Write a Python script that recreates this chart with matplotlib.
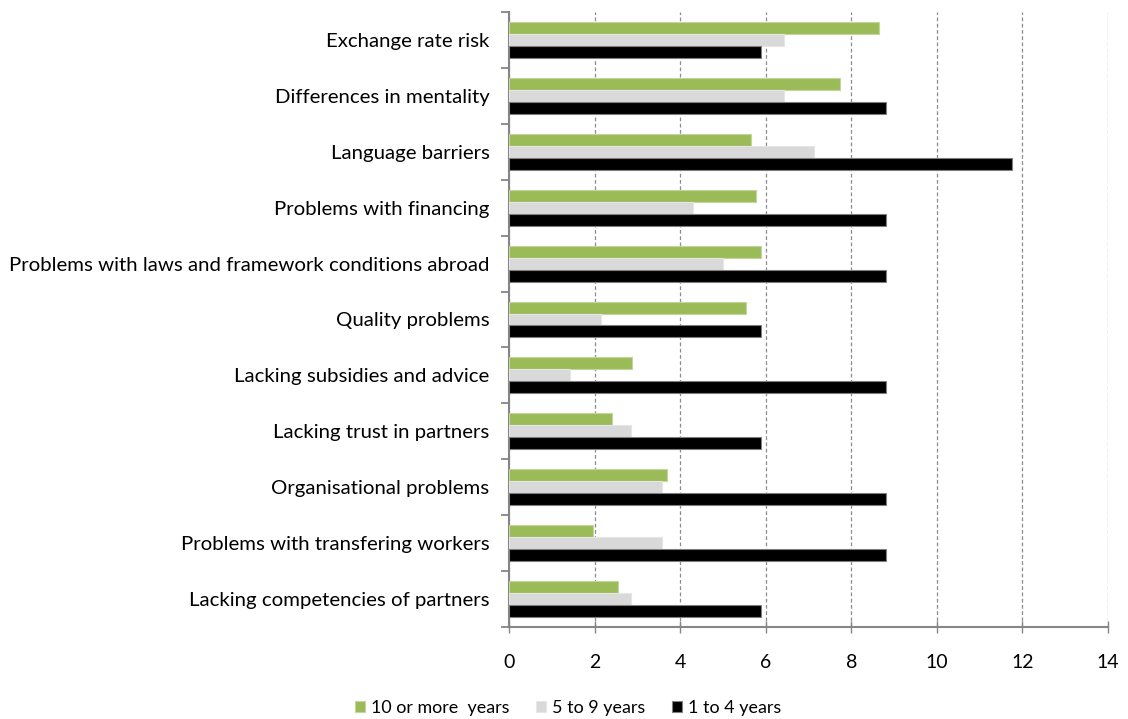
import numpy as np
import matplotlib.pyplot as plt

plt.rcParams['font.family'] = ['Lato', 'DejaVu Sans']

categories = [
    "Exchange rate risk",
    "Differences in mentality",
    "Language barriers",
    "Problems with financing",
    "Problems with laws and framework conditions abroad",
    "Quality problems",
    "Lacking subsidies and advice",
    "Lacking trust in partners",
    "Organisational problems",
    "Problems with transfering workers",
    "Lacking competencies of partners",
]
series_names = ["10 or more  years", "5 to 9 years", "1 to 4 years"]
ten_plus = [8.65, 7.74, 5.66, 5.77, 5.88, 5.53, 2.87, 2.40, 3.69, 1.96, 2.54]
five_to_nine = [6.43, 6.43, 7.14, 4.29, 5.00, 2.14, 1.43, 2.86, 3.57, 3.57, 2.86]
one_to_four = [5.88, 8.82, 11.76, 8.82, 8.82, 5.88, 8.82, 5.88, 8.82, 8.82, 5.88]
x_ticks = [0, 2, 4, 6, 8, 10, 12, 14]

colors = ["#9BBB59", "#D9D9D9", "#000000"]
edges = ["#C3D69B", "#E6E6E6", "#808080"]
axis_grey = "#868686"

fig = plt.figure(figsize=(11.28, 7.19), dpi=100)
ax = fig.add_axes([509 / 1128, 1 - 627 / 719, 599 / 1128, 615 / 719])

n = len(categories)
pos = np.arange(n)
h = 0.214
for k, (vals, name) in enumerate(zip([ten_plus, five_to_nine, one_to_four], series_names)):
    ax.barh(pos + (k - 1) * h, vals, height=h, color=colors[k],
            edgecolor=edges[k], linewidth=0.8, label=name, zorder=3)

ax.set_xlim(0, 14)
ax.set_ylim(n - 0.5, -0.5)
ax.set_xticks(x_ticks)
ax.set_xticklabels([str(t) for t in x_ticks], fontsize=14)
ax.xaxis.grid(True, linestyle=(0, (3, 2)), color="#8C8C8C", linewidth=0.9, zorder=0)

# category labels centered, tick marks between groups
ax.set_yticks(pos)
ax.set_yticklabels(categories, fontsize=14.7)
ax.tick_params(axis='y', length=0, pad=14)
ax.set_yticks(np.arange(-0.5, n, 1), minor=True)
ax.tick_params(axis='y', which='minor', length=6, width=1.3, color=axis_grey, direction='out')
ax.tick_params(axis='x', length=9, width=1, color=axis_grey, direction='inout', pad=15)

for side in ["top", "right"]:
    ax.spines[side].set_visible(False)
for side in ["left", "bottom"]:
    ax.spines[side].set_color(axis_grey)
    ax.spines[side].set_linewidth(1.5)

fig.legend(loc="center", bbox_to_anchor=(568 / 1128, 1 - 708 / 719), ncol=3,
           frameon=False, fontsize=12.9, handlelength=0.56, handleheight=0.56,
           handletextpad=0.33, columnspacing=1.5)

fig.savefig("out.png", dpi=100)
